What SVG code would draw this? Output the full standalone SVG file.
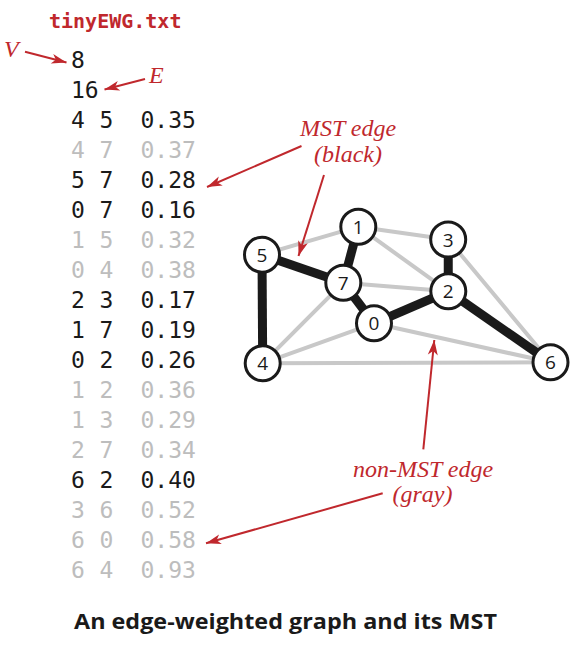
<svg xmlns="http://www.w3.org/2000/svg" width="585" height="658" viewBox="0 0 585 658">
<style>
.t{font-family:"DejaVu Sans Mono","Liberation Mono",monospace;font-size:23px}
.b{fill:#1a1a1a}
.g{fill:#bdbdbd}
.red{fill:#c0282d;font-family:"Liberation Serif",serif;font-style:italic;font-size:24px}
.ttl{fill:#c0282d;font-family:"DejaVu Sans Mono","Liberation Mono",monospace;font-weight:bold;font-size:20px}
.ar{stroke:#c0282d;stroke-width:2;fill:none}
.ge{stroke:#c8c8c8;stroke-width:4;stroke-linecap:round}
.me{stroke:#1a1a1a;stroke-width:9}
.nd circle{fill:#fff;stroke:#1a1a1a;stroke-width:3}
.nd text{font-family:"Open Sans","Liberation Sans",sans-serif;font-size:19px;fill:#1a1a1a;text-anchor:middle}
.cap{font-family:"Open Sans","Liberation Sans",sans-serif;font-weight:bold;font-size:22px;fill:#1a1a1a}
</style>
<defs>
<marker id="ah" viewBox="-16 -6 18 12" refX="0" refY="0" markerWidth="18" markerHeight="12" markerUnits="userSpaceOnUse" orient="auto">
<path d="M0,0 L-15,-5 L-11,0 L-15,5 Z" fill="#c0282d"/>
</marker>
</defs>

<text class="ttl" x="49" y="28">tinyEWG.txt</text>

<g id="list" class="t">
<text class="b" x="71" y="68">8</text>
<text class="b" x="71" y="98">16</text>
<g class="b"><text x="71" y="128">4</text><text x="99.5" y="128">5</text><text x="140.5" y="128">0.35</text></g>
<g class="g"><text x="71" y="158">4</text><text x="99.5" y="158">7</text><text x="140.5" y="158">0.37</text></g>
<g class="b"><text x="71" y="188">5</text><text x="99.5" y="188">7</text><text x="140.5" y="188">0.28</text></g>
<g class="b"><text x="71" y="218">0</text><text x="99.5" y="218">7</text><text x="140.5" y="218">0.16</text></g>
<g class="g"><text x="71" y="248">1</text><text x="99.5" y="248">5</text><text x="140.5" y="248">0.32</text></g>
<g class="g"><text x="71" y="278">0</text><text x="99.5" y="278">4</text><text x="140.5" y="278">0.38</text></g>
<g class="b"><text x="71" y="308">2</text><text x="99.5" y="308">3</text><text x="140.5" y="308">0.17</text></g>
<g class="b"><text x="71" y="338">1</text><text x="99.5" y="338">7</text><text x="140.5" y="338">0.19</text></g>
<g class="b"><text x="71" y="368">0</text><text x="99.5" y="368">2</text><text x="140.5" y="368">0.26</text></g>
<g class="g"><text x="71" y="398">1</text><text x="99.5" y="398">2</text><text x="140.5" y="398">0.36</text></g>
<g class="g"><text x="71" y="428">1</text><text x="99.5" y="428">3</text><text x="140.5" y="428">0.29</text></g>
<g class="g"><text x="71" y="458">2</text><text x="99.5" y="458">7</text><text x="140.5" y="458">0.34</text></g>
<g class="b"><text x="71" y="488">6</text><text x="99.5" y="488">2</text><text x="140.5" y="488">0.40</text></g>
<g class="g"><text x="71" y="518">3</text><text x="99.5" y="518">6</text><text x="140.5" y="518">0.52</text></g>
<g class="g"><text x="71" y="548">6</text><text x="99.5" y="548">0</text><text x="140.5" y="548">0.58</text></g>
<g class="g"><text x="71" y="578">6</text><text x="99.5" y="578">4</text><text x="140.5" y="578">0.93</text></g>
</g>

<g id="connectors">
<line class="ge" x1="262.7" y1="363.3" x2="343.3" y2="282.7"/>
<line class="ge" x1="358.3" y1="226.7" x2="262" y2="254.7"/>
<line class="ge" x1="374" y1="323.3" x2="262.7" y2="363.3"/>
<line class="ge" x1="358.3" y1="226.7" x2="448.2" y2="239.5"/>
<line class="ge" x1="358.3" y1="226.7" x2="448.3" y2="291.3"/>
<line class="ge" x1="448.2" y1="239.5" x2="550.5" y2="362.3"/>
<line class="ge" x1="448.3" y1="291.3" x2="343.3" y2="282.7"/>
<line class="ge" x1="550.5" y1="362.3" x2="374" y2="323.3"/>
<line class="ge" x1="550.5" y1="362.3" x2="262.7" y2="363.3"/>
<line class="me" x1="262.7" y1="363.3" x2="262" y2="254.7"/>
<line class="me" x1="262" y1="254.7" x2="343.3" y2="282.7"/>
<line class="me" x1="374" y1="323.3" x2="343.3" y2="282.7"/>
<line class="me" x1="448.3" y1="291.3" x2="448.2" y2="239.5"/>
<line class="me" x1="358.3" y1="226.7" x2="343.3" y2="282.7"/>
<line class="me" x1="374" y1="323.3" x2="448.3" y2="291.3"/>
<line class="me" x1="550.5" y1="362.3" x2="448.3" y2="291.3"/>
</g>

<g id="n0" class="nd"><circle cx="374" cy="323.3" r="17.5"/><text x="374" y="330.3">0</text></g>
<g id="n1" class="nd"><circle cx="358.3" cy="226.7" r="17.5"/><text x="358.3" y="233.7">1</text></g>
<g id="n2" class="nd"><circle cx="448.3" cy="291.3" r="17.5"/><text x="448.3" y="298.3">2</text></g>
<g id="n3" class="nd"><circle cx="448.2" cy="239.5" r="17.5"/><text x="448.2" y="246.5">3</text></g>
<g id="n4" class="nd"><circle cx="262.7" cy="363.3" r="17.5"/><text x="262.7" y="370.3">4</text></g>
<g id="n5" class="nd"><circle cx="262" cy="254.7" r="17.5"/><text x="262" y="261.7">5</text></g>
<g id="n6" class="nd"><circle cx="550.5" cy="362.3" r="17.5"/><text x="550.5" y="369.3">6</text></g>
<g id="n7" class="nd"><circle cx="343.3" cy="282.7" r="17.5"/><text x="343.3" y="289.7">7</text></g>

<g id="annotations">
<text class="red" x="4" y="57">V</text>
<line class="ar" x1="25" y1="51.7" x2="66.5" y2="62.5" marker-end="url(#ah)"/>
<text class="red" x="149" y="83">E</text>
<line class="ar" x1="145" y1="79" x2="104.5" y2="89.5" marker-end="url(#ah)"/>
<text class="red" x="348" y="136" text-anchor="middle">MST edge</text>
<text class="red" x="348" y="162" text-anchor="middle">(black)</text>
<line class="ar" x1="301.5" y1="146" x2="207" y2="187" marker-end="url(#ah)"/>
<line class="ar" x1="324" y1="175" x2="298.5" y2="256" marker-end="url(#ah)"/>
<text class="red" x="423" y="477" text-anchor="middle">non-MST edge</text>
<text class="red" x="422.5" y="502" text-anchor="middle">(gray)</text>
<line class="ar" x1="423.3" y1="449.3" x2="434.3" y2="340" marker-end="url(#ah)"/>
<line class="ar" x1="382.7" y1="493.3" x2="206" y2="543.3" marker-end="url(#ah)"/>
</g>

<text class="cap" x="74" y="629" textLength="423" lengthAdjust="spacingAndGlyphs">An edge-weighted graph and its MST</text>
</svg>
